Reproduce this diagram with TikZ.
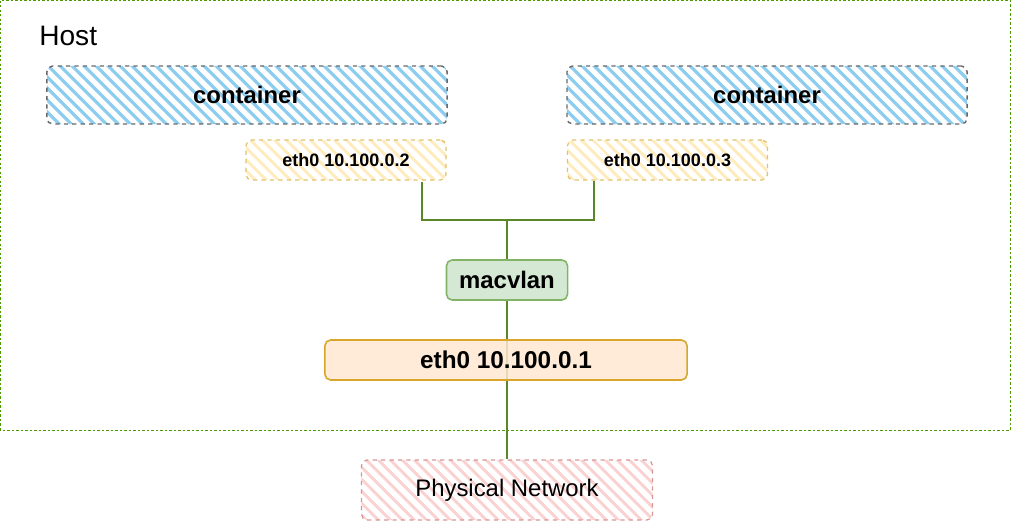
\documentclass[tikz,border=0pt]{standalone}
\usepackage{fontspec}
\setmainfont{Liberation Sans}
\usetikzlibrary{positioning,calc,patterns.meta}
\definecolor{hatchblue}{RGB}{140,205,240}
\definecolor{contline}{RGB}{105,105,105}
\definecolor{ethhatch}{RGB}{255,236,190}
\definecolor{ethline}{RGB}{225,195,110}
\definecolor{macfill}{RGB}{213,232,212}
\definecolor{macline}{RGB}{130,179,102}
\definecolor{hostfill}{RGB}{255,232,208}
\definecolor{hostline}{RGB}{215,165,40}
\definecolor{physhatch}{RGB}{250,210,210}
\definecolor{physline}{RGB}{215,150,150}
\definecolor{wirecol}{RGB}{90,135,40}
\definecolor{framecol}{RGB}{77,153,0}
\tikzset{
    container/.style={
        draw=contline, dashed, line width=1pt, rounded corners=4pt,
        pattern={Lines[angle=-45,distance=6.4pt,line width=2.6pt]}, pattern color=hatchblue,
        minimum width=10cm, minimum height=1.45cm,
        font=\fontsize{17}{20}\selectfont\bfseries},
    ethbox/.style={
        draw=ethline, dashed, line width=0.9pt, rounded corners=4pt,
        pattern={Lines[angle=-45,distance=6.4pt,line width=2.4pt]}, pattern color=ethhatch,
        minimum width=5cm, minimum height=1cm,
        font=\fontsize{12.8}{15}\selectfont\bfseries},
    macbox/.style={
        draw=macline, fill=macfill, line width=1.1pt, rounded corners=4pt,
        minimum width=3.025cm, minimum height=1cm,
        font=\fontsize{17}{20}\selectfont\bfseries},
    hostbox/.style={
        draw=hostline, fill=hostfill, fill opacity=0.85, text opacity=1, line width=1.1pt, rounded corners=4pt,
        minimum width=9.05cm, minimum height=1cm,
        font=\fontsize{17.3}{20}\selectfont\bfseries},
    physbox/.style={
        draw=physline, dashed, line width=0.9pt, rounded corners=4pt,
        pattern={Lines[angle=-45,distance=6.4pt,line width=2.4pt]}, pattern color=physhatch,
        minimum width=7.275cm, minimum height=1.5cm,
        font=\fontsize{17}{20}\selectfont},
    wire/.style={draw=wirecol, line width=1.4pt},
    hostframe/.style={draw=framecol, line width=0.6pt, dash pattern=on 1.6pt off 1.6pt}
}
\begin{document}
\begin{tikzpicture}[x=0.025cm,y=-0.025cm]
    \useasboundingbox (0,0) rectangle (1011,522);
    \draw[hostframe] (0.5,0.5) rectangle (1010.5,430);
    \node[anchor=west,inner sep=0pt,font=\fontsize{20}{24}\selectfont] (hostlabel) at (39,36) {Host};
    \node[container] (c1) at (247,95) {container};
    \node[container] (c2) at (767,95) {container};
    \node[ethbox] (e1) at (346,160) {eth0 10.100.0.2};
    \node[ethbox] (e2) at (667.5,160) {eth0 10.100.0.3};
    \node[macbox] (mac) at (507,280) {macvlan};
    \node[physbox] (phys) at (507,490) {Physical Network};
    \coordinate (join) at (507,220);
    \draw[wire] ([xshift=-0.65cm]e1.south east) |- (join) -| ([xshift=0.675cm]e2.south west);
    \draw[wire] (join) -- (mac.north);
    \draw[wire] (mac.south) -- (phys.north);
    \node[hostbox] (eth) at (506,360) {eth0 10.100.0.1};
\end{tikzpicture}
\end{document}
